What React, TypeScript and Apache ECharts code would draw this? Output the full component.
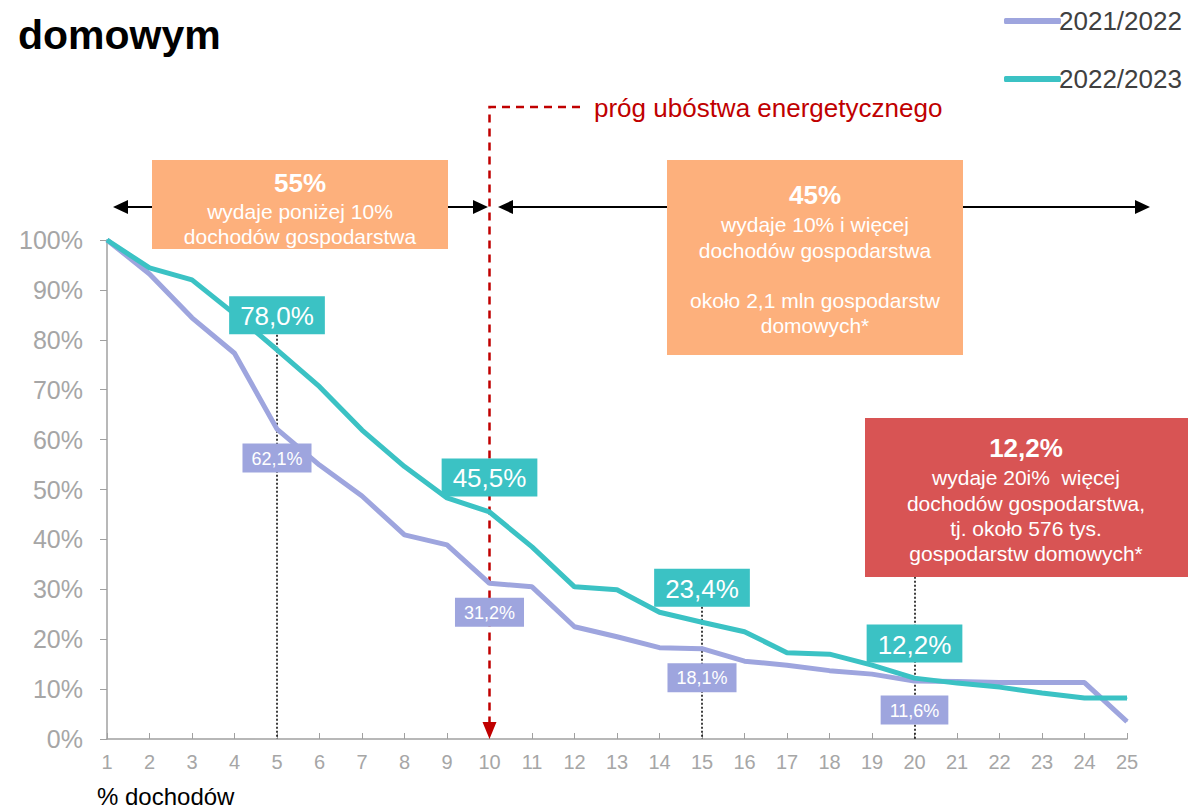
import React, { useEffect, useRef } from 'react';
import * as echarts from 'echarts';

const categories = ['1','2','3','4','5','6','7','8','9','10','11','12','13','14','15','16','17','18','19','20','21','22','23','24','25'];
const seriesNames = ['2021/2022', '2022/2023'];
const values2122 = [100, 93.2, 84.4, 77.3, 62.1, 54.9, 48.7, 40.9, 38.9, 31.2, 30.5, 22.5, 20.5, 18.3, 18.1, 15.6, 14.8, 13.7, 13.0, 11.6, 11.5, 11.3, 11.3, 11.3, 3.5];
const values2223 = [100, 94.4, 92.0, 85.2, 78.0, 70.6, 61.9, 54.6, 48.3, 45.5, 38.5, 30.5, 29.9, 25.4, 23.4, 21.5, 17.3, 17.0, 14.8, 12.2, 11.2, 10.4, 9.2, 8.2, 8.2];
const labeledIdx = [4, 9, 14, 19];
const guideLines: [string, number][] = [['5', 81], ['15', 26.5], ['20', 32.5]];
const yTicks = [0, 10, 20, 30, 40, 50, 60, 70, 80, 90, 100];

const PURPLE = '#9EA5DE';
const TEAL = '#3BC2C4';
const ORANGE = '#FDB07C';
const REDBOX = '#D85454';
const DARKRED = '#C00000';
const FONT = 'Liberation Sans, Arial, sans-serif';

const fmt = (v: number) => v.toFixed(1).replace('.', ',') + '%';

export default function App() {
  const ref = useRef<HTMLDivElement>(null);
  useEffect(() => {
    if (!ref.current) return;
    const chart = echarts.init(ref.current, null, { renderer: 'svg' });
    const mk = (vals: number[], top: boolean) =>
      vals.map((v, i) =>
        labeledIdx.includes(i)
          ? {
              value: v,
              label: top
                ? {
                    show: true, position: 'top', distance: 15, formatter: fmt(v),
                    backgroundColor: TEAL, color: '#fff', fontSize: 26, fontFamily: FONT,
                    padding: [7, 11, 5, 11],
                  }
                : {
                    show: true, position: 'bottom', distance: 14, formatter: fmt(v),
                    backgroundColor: PURPLE, color: '#fff', fontSize: 18, fontFamily: FONT,
                    padding: [6, 9, 5, 9],
                  },
            }
          : v
      );
    const option: any = {
      animation: false,
      textStyle: { fontFamily: FONT },
      grid: { left: 107, right: 62, top: 240, bottom: 72, containLabel: false },
      legend: {
        data: seriesNames,
        orient: 'vertical',
        left: 999,
        top: 3,
        itemGap: 32,
        itemWidth: 57,
        itemHeight: 6,
        icon: 'roundRect',
        textStyle: { fontSize: 26, color: '#404040', fontFamily: FONT, padding: [0, 0, 0, -7] },
      },
      xAxis: {
        type: 'category',
        data: categories,
        boundaryGap: false,
        axisLine: { lineStyle: { color: '#A0A0A0', width: 1.5 } },
        axisTick: { inside: true, length: 6, lineStyle: { color: '#A0A0A0' } },
        axisLabel: { interval: 0, fontSize: 20, color: '#A6A6A6', margin: 13, fontFamily: FONT },
        splitLine: { show: false },
      },
      yAxis: {
        type: 'value',
        min: yTicks[0],
        max: yTicks[yTicks.length - 1],
        interval: 10,
        axisLine: { show: true, lineStyle: { color: '#A0A0A0', width: 1.5 } },
        axisTick: { show: true, length: 7, lineStyle: { color: '#A0A0A0' } },
        axisLabel: { formatter: '{value}%', fontSize: 25, color: '#A6A6A6', margin: 24, fontFamily: FONT },
        splitLine: { show: false },
      },
      series: [
        {
          name: seriesNames[0],
          type: 'line',
          data: mk(values2122, false),
          symbol: 'circle',
          symbolSize: 1,
          showSymbol: true,
          itemStyle: { color: PURPLE },
          lineStyle: { color: PURPLE, width: 5 },
          z: 2,
          markLine: {
            silent: true,
            symbol: 'none',
            label: { show: false },
            lineStyle: { color: '#000', type: [2, 2], width: 1.5 },
            data: guideLines.map(([c, top]) => [{ coord: [c, top] }, { coord: [c, 0] }]),
            z: 1,
          },
        },
        {
          name: seriesNames[1],
          type: 'line',
          data: mk(values2223, true),
          symbol: 'circle',
          symbolSize: 1,
          showSymbol: true,
          itemStyle: { color: TEAL },
          lineStyle: { color: TEAL, width: 5 },
          z: 3,
        },
      ],
    };
    chart.setOption(option);

    const x10 = chart.convertToPixel({ xAxisIndex: 0 }, 9) as number;
    const y0 = chart.convertToPixel({ yAxisIndex: 0 }, 0) as number;

    const txt = (x: number, y: number, text: string, size: number, bold = false, fill = '#fff', align = 'center') => ({
      type: 'text', x, y,
      style: { text, fontSize: size, fontWeight: bold ? 'bold' : 'normal', fill, fontFamily: FONT, align, verticalAlign: 'middle' },
      z: 20,
    });
    const arrowHead = (tipX: number, y: number, dir: number) => ({
      type: 'polygon',
      shape: { points: [[tipX, y], [tipX - dir * 15, y - 7], [tipX - dir * 15, y + 7]] },
      style: { fill: '#000' },
      z: 10,
    });
    const AY = 207;

    const graphic: any[] = [
      txt(18, 35, 'domowym', 41, true, '#000', 'left'),
      txt(97, 796, '% dochodów', 24, false, '#000', 'left'),
      // red threshold line
      {
        type: 'polyline',
        shape: { points: [[580, 107], [x10, 107], [x10, y0 - 15]] },
        style: { stroke: DARKRED, lineWidth: 2.5, lineDash: [8, 6], fill: null },
        z: 1,
      },
      {
        type: 'polygon',
        shape: { points: [[x10 - 7, y0 - 17], [x10 + 7, y0 - 17], [x10, y0]] },
        style: { fill: DARKRED },
        z: 1,
      },
      txt(594, 108, 'próg ubóstwa energetycznego', 26, false, DARKRED, 'left'),
      // arrows
      { type: 'line', shape: { x1: 120, y1: AY, x2: 480, y2: AY }, style: { stroke: '#000', lineWidth: 2 }, z: 10 },
      arrowHead(113, AY, -1),
      arrowHead(488, AY, 1),
      { type: 'line', shape: { x1: 505, y1: AY, x2: 1143, y2: AY }, style: { stroke: '#000', lineWidth: 2 }, z: 10 },
      arrowHead(498, AY, -1),
      arrowHead(1150, AY, 1),
      // box 1
      { type: 'rect', shape: { x: 152, y: 160, width: 296, height: 89 }, style: { fill: ORANGE }, z: 12 },
      txt(300, 183, '55%', 26, true),
      txt(300, 211, 'wydaje poniżej 10%', 21),
      txt(300, 236, 'dochodów gospodarstwa', 21),
      // box 2
      { type: 'rect', shape: { x: 667, y: 160, width: 296, height: 195 }, style: { fill: ORANGE }, z: 12 },
      txt(815, 195, '45%', 26, true),
      txt(815, 224, 'wydaje 10% i więcej', 21),
      txt(815, 250, 'dochodów gospodarstwa', 21),
      txt(815, 300, 'około 2,1 mln gospodarstw', 21),
      txt(815, 325, 'domowych*', 21),
      // red box
      { type: 'rect', shape: { x: 865, y: 418, width: 323, height: 159 }, style: { fill: REDBOX }, z: 12 },
      txt(1026, 448, '12,2%', 26, true),
      txt(1026, 477, 'wydaje 20i%  więcej', 21),
      txt(1026, 503, 'dochodów gospodarstwa,', 21),
      txt(1026, 528, 'tj. około 576 tys.', 21),
      txt(1026, 553, 'gospodarstw domowych*', 21),
    ];
    chart.setOption({ graphic });
    return () => chart.dispose();
  }, []);
  return <div ref={ref} style={{ position: 'fixed', left: 0, top: 0, width: 1189, height: 811, background: '#fff' }} />;
}
